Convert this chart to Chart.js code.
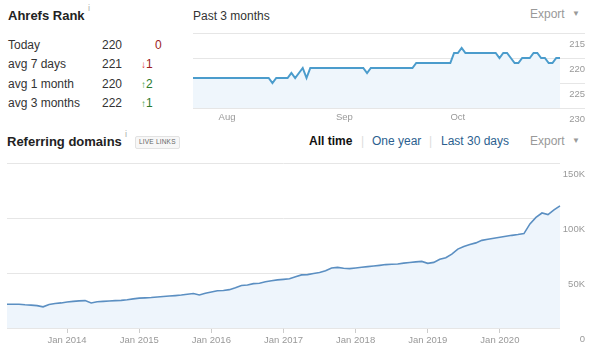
<!DOCTYPE html>
<html><head><meta charset="utf-8">
<script src="https://cdn.jsdelivr.net/npm/chart.js@4.4.1/dist/chart.umd.min.js"></script>
<style>
html,body{margin:0;padding:0;background:#fff;width:600px;height:356px;overflow:hidden;font-family:"Liberation Sans",Arial,sans-serif;color:#333;}
.a{position:absolute;white-space:nowrap;line-height:1;}
.h{font-size:13px;font-weight:bold;color:#222;}
.t{font-size:12px;color:#333;}
.sup{font-size:9px;color:#aaa;}
.g{color:#999;}
.badge{font-size:6.5px;color:#666;border:1px solid #e2e2e2;background:#f7f7f7;border-radius:2px;padding:2px 3px;letter-spacing:0.2px;}
canvas{position:absolute;}
</style></head><body>

<div class="a h" style="left:8px;top:8.5px;">Ahrefs Rank</div>
<div class="a sup" style="left:88px;top:4px;">i</div>

<div id="rankTable"></div>

<div class="a t" style="left:193px;top:9.5px;">Past 3 months</div>
<div class="a t g" style="left:530px;top:8px;">Export</div>
<div class="a g" style="left:572px;top:10px;font-size:8px;">&#9660;</div>

<div class="a h" style="left:7px;top:134.5px;">Referring domains</div>
<div class="a sup" style="left:125px;top:130px;">i</div>
<div class="a badge" style="left:135px;top:136px;">LIVE LINKS</div>

<div class="a t" style="left:309px;top:134.8px;color:#111;font-weight:bold;">All time</div>
<div class="a t" style="left:361px;top:134.8px;color:#ddd;">|</div>
<div class="a t" style="left:372px;top:134.8px;color:#2c5f8f;">One year</div>
<div class="a t" style="left:429px;top:134.8px;color:#ddd;">|</div>
<div class="a t" style="left:441px;top:134.8px;color:#2c5f8f;">Last 30 days</div>
<div class="a t g" style="left:530px;top:134.8px;">Export</div>
<div class="a g" style="left:572px;top:137px;font-size:8px;">&#9660;</div>

<canvas id="rank" width="400" height="102" style="left:190px;top:25px;"></canvas>
<canvas id="dom" width="600" height="201" style="left:0px;top:155px;"></canvas>

<script>
// ---- Ahrefs Rank table ----
const rankRowLabels = ['Today', 'avg 7 days', 'avg 1 month', 'avg 3 months'];
const rankRowValues = [220, 221, 220, 222];
const rankRowChange = [0, -1, 2, 1];

// ---- Ahrefs Rank, past 3 months (daily, from Jul 23) ----
const rankMonthLabels = ['Aug', 'Sep', 'Oct'];
const rankMonthDay = [9, 40, 70];
const rankAxisTicks = [215, 220, 225, 230];
const rankValues = [
  224,224,224,224,224,224,224,224,224,224,
  224,224,224,224,224,224,224,224,224,224,
  224,225,224,224,224,224,223,224,223,222,
  224,222,222,222,222,222,222,222,222,222,
  222,222,222,222,222,222,223,222,222,222,
  222,222,222,222,222,222,222,222,222,221,
  221,221,221,221,221,221,221,221,221,219,
  219,218,219,219,219,219,219,219,219,219,
  219,220,219,219,220,221,221,220,220,220,
  219,219,220,220,221,221,220,220
];

// ---- Referring domains (monthly, Mar 2013 - Nov 2020) ----
const domainStartYear = 2013, domainStartMonth = 3;
const domainValues = [
  21700,21700,21700,21200,20900,20400,19300,21500,22300,22900,
  23700,24300,24800,25000,22900,23900,24300,24700,25000,25200,
  25800,26600,27300,27500,27800,28300,28800,29200,29600,30100,
  30800,31500,30100,31700,32800,34000,34300,35000,36700,38800,
  39200,40500,40900,42200,43200,43900,44400,44900,46800,48500,
  48700,49700,50600,52300,54800,55300,54500,54200,54800,55500,
  56000,56600,57200,57900,58200,58400,59200,59800,60400,60800,
  59000,59900,62700,64100,67500,72000,74300,76200,77700,80000,
  81000,82000,82800,83700,84600,85300,86200,95000,101000,105000,
  103500,107800,111500
];
const domainYTicks = [0, 50000, 100000, 150000];
const domainMonths = domainValues.map((_, i) => {
  const m = domainStartMonth - 1 + i;
  return (domainStartYear + Math.floor(m / 12)) + '-' + String(m % 12 + 1).padStart(2, '0');
});

// table
(function () {
  const host = document.getElementById('rankTable');
  const centers = [45, 64.3, 83.7, 102.7];
  let html = '';
  rankRowLabels.forEach((lab, i) => {
    const top = centers[i] - 6.2;
    html += '<div class="a t" style="left:8px;top:' + top + 'px;">' + lab + '</div>';
    html += '<div class="a t" style="left:102px;top:' + top + 'px;">' + rankRowValues[i] + '</div>';
    const c = rankRowChange[i];
    if (c === 0) {
      html += '<div class="a t" style="left:155px;top:' + top + 'px;color:#9b1c1c;">0</div>';
    } else if (c < 0) {
      html += '<div class="a t" style="left:141px;top:' + top + 'px;color:#9b1c1c;"><span style="font-size:10px;color:#d33;">&#8595;</span>' + Math.abs(c) + '</div>';
    } else {
      html += '<div class="a t" style="left:141px;top:' + top + 'px;color:#2b7a2b;"><span style="font-size:10px;color:#2f9a2f;">&#8593;</span>' + c + '</div>';
    }
  });
  host.innerHTML = html;
})();

const tickFont = { family: '"Liberation Sans", Arial, sans-serif', size: 9.5 };

new Chart(document.getElementById('rank'), {
  type: 'line',
  data: {
    datasets: [{
      data: rankValues.map((v, i) => ({ x: i, y: v })),
      borderColor: '#4b9ccc', borderWidth: 2, pointRadius: 0, tension: 0,
      fill: { value: 230 }, backgroundColor: '#eff6fc'
    }]
  },
  options: {
    responsive: false, animation: false,
    layout: { padding: { left: 3, right: 5, top: 8, bottom: 0 } },
    plugins: { legend: { display: false }, tooltip: { enabled: false } },
    scales: {
      x: {
        type: 'linear', min: 0, max: rankValues.length - 1 + 6.6,
        grid: { display: false, drawTicks: false }, border: { display: false },
        afterBuildTicks: s => { s.ticks = rankMonthDay.map(v => ({ value: v })); },
        afterFit: s => { s.height = 19; },
        ticks: {
          autoSkip: false, maxRotation: 0, padding: 4, color: '#999', font: tickFont,
          callback: v => rankMonthLabels[rankMonthDay.indexOf(v)]
        }
      },
      y: {
        position: 'right', reverse: true, min: 215, max: 230,
        afterBuildTicks: s => { s.ticks = rankAxisTicks.map(v => ({ value: v })); },
        afterFit: s => { s.width = 0; },
        grid: { color: '#e6e6e6', drawTicks: false }, border: { display: false },
        ticks: { mirror: true, padding: 0, labelOffset: 11, color: '#999', font: tickFont }
      }
    }
  }
});

new Chart(document.getElementById('dom'), {
  type: 'line',
  data: {
    labels: domainMonths,
    datasets: [{
      data: domainValues,
      borderColor: '#5b8fc2', borderWidth: 1.6, pointRadius: 0, tension: 0,
      fill: 'origin', backgroundColor: '#eef5fc'
    }]
  },
  options: {
    responsive: false, animation: false,
    layout: { padding: { left: 7, right: 15, top: 7, bottom: 0 } },
    plugins: { legend: { display: false }, tooltip: { enabled: false } },
    scales: {
      x: {
        grid: { drawOnChartArea: false, tickLength: 5, color: '#ccc' }, border: { display: false },
        afterFit: s => { s.height = 28; },
        ticks: {
          autoSkip: false, maxRotation: 0, padding: 2, color: '#999', font: tickFont,
          callback: (v, i) => domainMonths[i].endsWith('-01') ? 'Jan ' + domainMonths[i].slice(0, 4) : null
        }
      },
      y: {
        position: 'right', min: 0, max: 150000,
        afterBuildTicks: s => { s.ticks = domainYTicks.map(v => ({ value: v })); },
        afterFit: s => { s.width = 25; },
        grid: { color: '#e6e6e6', drawTicks: false }, border: { display: false },
        ticks: {
          crossAlign: 'far', padding: 3, labelOffset: 11, color: '#999', font: tickFont,
          callback: v => v === 0 ? '0' : (v / 1000) + 'K'
        }
      }
    }
  }
});
</script>
</body></html>
